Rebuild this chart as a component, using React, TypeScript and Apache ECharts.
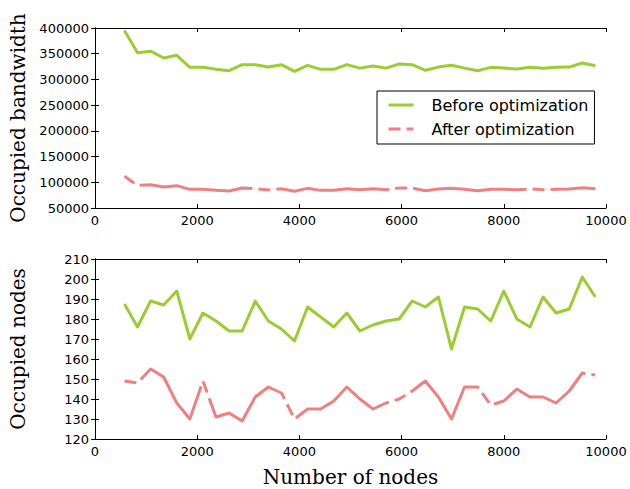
import React, { useEffect, useRef } from "react";
import * as echarts from "echarts";

const nodeCounts = [
  576, 832, 1088, 1344, 1600, 1856, 2112, 2368, 2624, 2880, 3136, 3392, 3648,
  3904, 4160, 4416, 4672, 4928, 5184, 5440, 5696, 5952, 6208, 6464, 6720, 6976,
  7232, 7488, 7744, 8000, 8256, 8512, 8768, 9024, 9280, 9536, 9792,
];

const bandwidthBefore = [
  395000, 352000, 355000, 341700, 346900, 323500, 323500, 319600, 317000,
  328700, 328700, 324000, 328700, 315700, 327400, 319600, 319600, 328700,
  322000, 326000, 322000, 330000, 328700, 317700, 324000, 327400, 322000,
  317000, 323500, 322000, 320300, 323500, 321600, 323500, 324000, 332000,
  326700,
];

const bandwidthAfter = [
  111600, 94000, 95400, 90900, 93400, 86300, 86300, 84300, 83000, 88900, 87600,
  85000, 87600, 82400, 88200, 84300, 84300, 87600, 85600, 87600, 85600, 88900,
  88900, 83700, 87000, 88200, 86300, 83700, 86300, 86300, 85600, 87000, 85600,
  86300, 87000, 89500, 87600,
];

const occupiedBefore = [
  187.5, 176, 189, 187, 194, 170, 183, 179, 174, 174, 189, 179, 175, 169, 186,
  181, 176, 183, 174, 177, 179, 180, 189, 186, 191, 165, 186, 185, 179, 194,
  180, 176, 191, 183, 185, 201, 191,
];

const occupiedAfter = [
  149, 148, 155, 151, 138, 130, 149, 131, 133, 129, 141, 146, 143, 130, 135,
  135, 139, 146, 140, 135, 138, 140, 144, 149, 141, 130, 146, 146, 137, 139,
  145, 141, 141, 138, 144, 153, 152,
];

const seriesNames = ["Before optimization", "After optimization"];
const xAxisTitle = "Number of nodes";
const yTitles = ["Occupied bandwidth", "Occupied nodes"];

const GREEN = "#9acd32";
const RED = "#f08080";
const SANS = "DejaVu Sans";
const SERIF = "DejaVu Serif";

const pair = (xs: number[], ys: number[]) => xs.map((x, i) => [x, ys[i]]);

export default function App() {
  const ref = useRef<HTMLDivElement>(null);

  useEffect(() => {
    if (!ref.current) return;
    const chart = echarts.init(ref.current, undefined, { renderer: "svg" });

    const tickLabel = {
      color: "#000",
      fontFamily: SANS,
      fontSize: 13,
      formatter: (v: number) => String(v),
    };
    const axisLine = { show: true, lineStyle: { color: "#000", width: 1 } };
    const tick = { show: true, inside: true, length: 4, lineStyle: { color: "#000", width: 1 } };

    const mkX = (gridIndex: number, showName: boolean) => [
      {
        type: "value",
        gridIndex,
        position: "bottom",
        min: 0,
        max: 10000,
        interval: 2000,
        axisLine,
        axisTick: tick,
        splitLine: { show: false },
        axisLabel: { ...tickLabel, margin: 6 },
        name: showName ? xAxisTitle : "",
        nameLocation: "middle",
        nameGap: 28,
        nameTextStyle: { fontFamily: SERIF, fontSize: 20, color: "#000" },
      },
      {
        type: "value",
        gridIndex,
        position: "top",
        min: 0,
        max: 10000,
        interval: 2000,
        axisLine,
        axisTick: tick,
        splitLine: { show: false },
        axisLabel: { show: false },
      },
    ];

    const mkY = (gridIndex: number, min: number, max: number, interval: number, name: string) => [
      {
        type: "value",
        gridIndex,
        position: "left",
        min,
        max,
        interval,
        axisLine,
        axisTick: tick,
        splitLine: { show: false },
        axisLabel: { ...tickLabel, margin: 6 },
        name,
        nameLocation: "middle",
        nameGap: 67,
        nameTextStyle: { fontFamily: SERIF, fontSize: 20, color: "#000" },
      },
      {
        type: "value",
        gridIndex,
        position: "right",
        min,
        max,
        interval,
        axisLine,
        axisTick: tick,
        splitLine: { show: false },
        axisLabel: { show: false },
      },
    ];

    const lineSeries = (
      name: string,
      data: number[][],
      color: string,
      gridIdx: number,
      dashed: boolean
    ) => ({
      type: "line",
      name,
      data,
      xAxisIndex: gridIdx * 2,
      yAxisIndex: gridIdx * 2,
      symbol: "none",
      showSymbol: false,
      lineStyle: {
        color,
        width: 3,
        type: dashed ? [12, 6, 114, 6] : "solid",
        join: "round",
        cap: "butt",
      },
      itemStyle: { color },
      emphasis: { disabled: true },
    });

    chart.setOption({
      animation: false,
      backgroundColor: "#fff",
      grid: [
        { left: 93, top: 28, width: 513, height: 180, containLabel: false },
        { left: 93, top: 259, width: 513, height: 180, containLabel: false },
      ],
      xAxis: [...mkX(0, false), ...mkX(1, true)],
      yAxis: [
        ...mkY(0, 50000, 400000, 50000, yTitles[0]),
        ...mkY(1, 120, 210, 10, yTitles[1]),
      ],
      legend: {
        data: seriesNames,
        orient: "vertical",
        left: 377,
        top: 91,
        padding: [6, 6, 7, 10],
        itemGap: 8,
        itemWidth: 25,
        itemHeight: 14,
        itemStyle: { opacity: 0 },
        lineStyle: { width: 3 },
        backgroundColor: "#fff",
        borderColor: "#000",
        borderWidth: 1,
        borderRadius: 0,
        selectedMode: false,
        textStyle: {
          fontFamily: SANS,
          fontSize: 16,
          color: "#000",
          lineHeight: 16,
          padding: [0, 0, 0, 13],
        },
      },
      series: [
        lineSeries(seriesNames[0], pair(nodeCounts, bandwidthBefore), GREEN, 0, false),
        lineSeries(seriesNames[1], pair(nodeCounts, bandwidthAfter), RED, 0, true),
        lineSeries(seriesNames[0], pair(nodeCounts, occupiedBefore), GREEN, 1, false),
        lineSeries(seriesNames[1], pair(nodeCounts, occupiedAfter), RED, 1, true),
      ],
    });

    return () => chart.dispose();
  }, []);

  return (
    <div
      ref={ref}
      style={{ position: "absolute", left: 0, top: 0, width: 630, height: 489 }}
    />
  );
}
